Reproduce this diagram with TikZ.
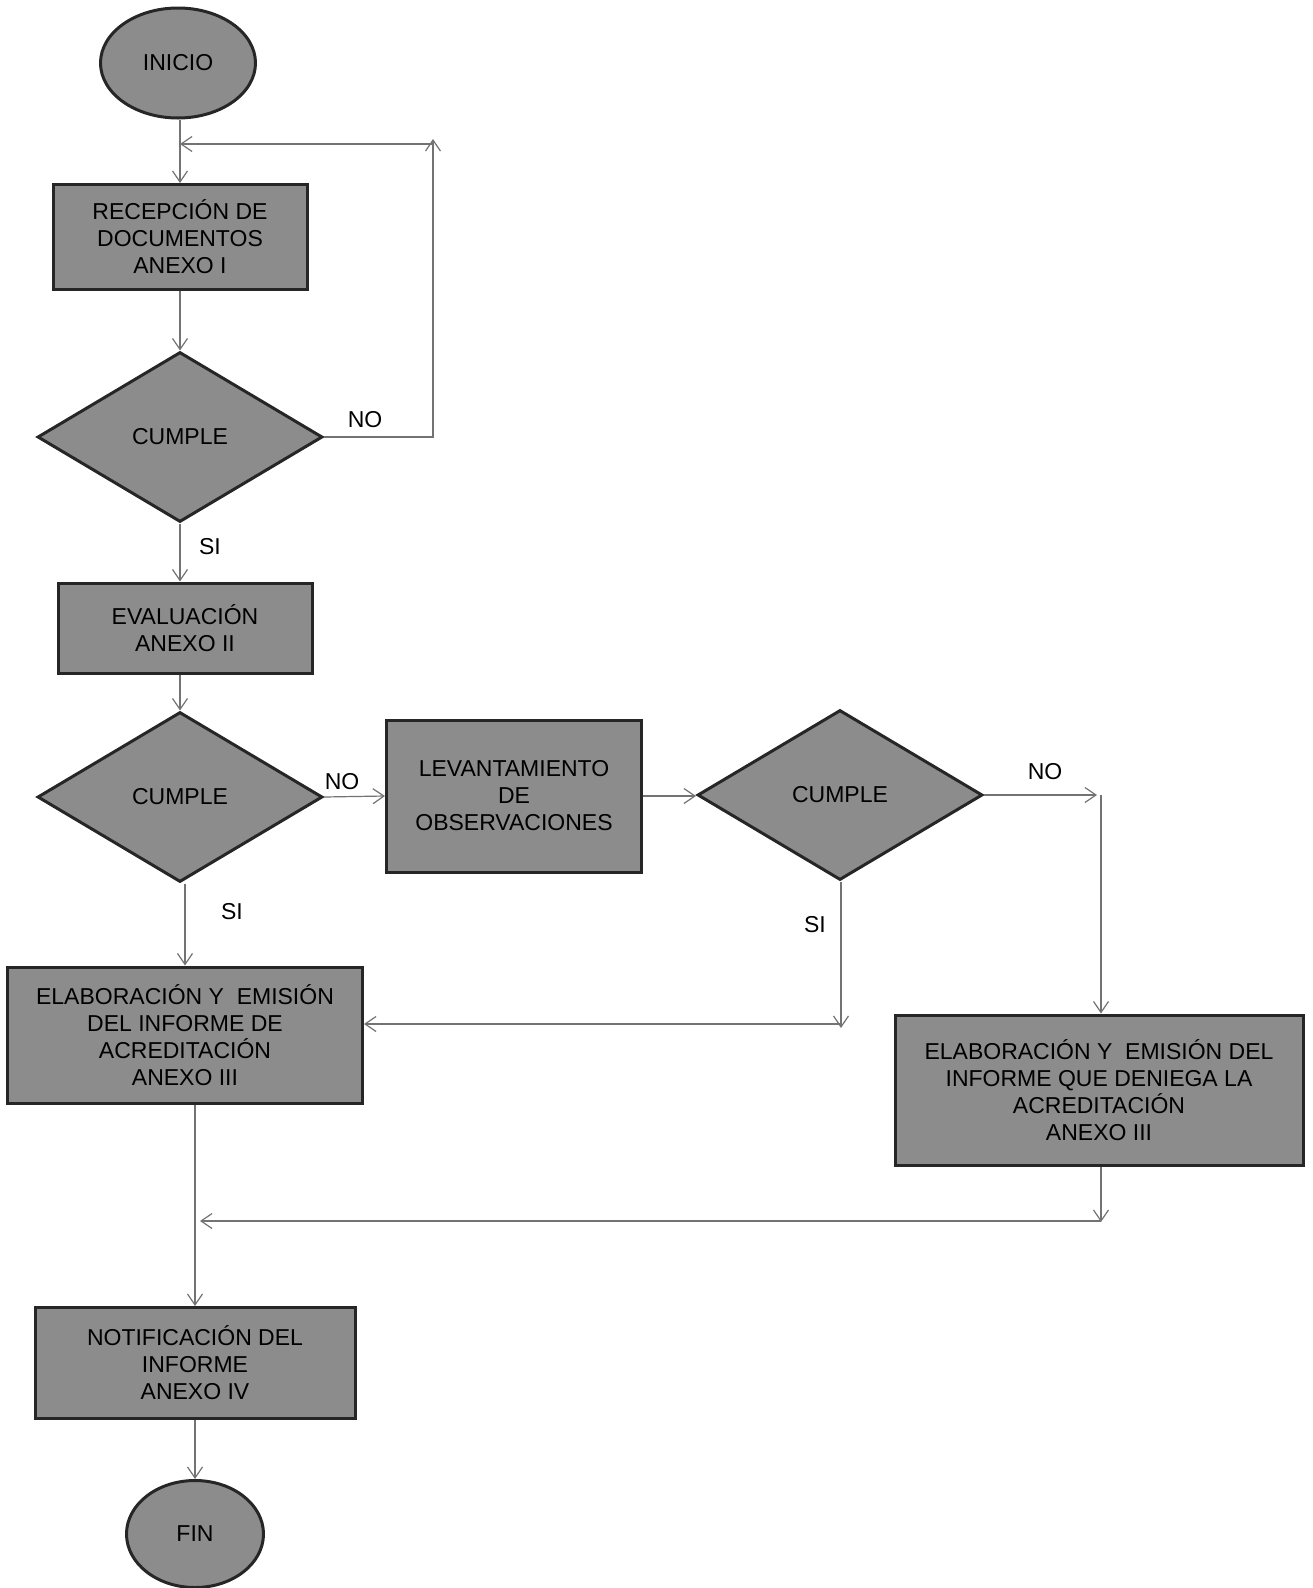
\documentclass[tikz,border=0pt]{standalone}
\usepackage{fontspec}
\setmainfont{Liberation Sans}
\usetikzlibrary{arrows.meta}
\usetikzlibrary{calc}
\usetikzlibrary{positioning}
\usetikzlibrary{shapes.geometric}
\tikzset{
  every node/.style={font=\fontsize{23}{27}\selectfont, align=center},
  proceso/.style={rectangle, fill=black!45, draw=black!85, line width=3pt, inner sep=4pt},
  decision/.style={diamond, fill=black!45, draw=black!85, line width=3pt, inner sep=0pt,
    minimum width=285pt, minimum height=170pt},
  terminal/.style={ellipse, fill=black!45, draw=black!85, line width=3pt, inner sep=0pt},
  etiqueta/.style={inner sep=0pt},
  arrow/.style={->, >={Straight Barb[length=11pt,width=15pt]}, draw=black!55, line width=1.2pt}
}

\begin{document}
\begin{tikzpicture}[x=1pt, y=-1pt]
  \useasboundingbox (0,0) rectangle (1313,1588);

  % columna principal
  \node[terminal, minimum width=155pt, minimum height=110pt] (inicio) at (178,63) {INICIO};
  \node[proceso, minimum width=254pt, minimum height=105pt] (recepcion) at (180,237)
    {RECEPCIÓN DE\\DOCUMENTOS\\ANEXO I};
  \node[decision] (cumple1) at (180,437) {CUMPLE};
  \node[proceso, minimum width=254pt, minimum height=90pt] (evaluacion) at (185,628)
    {EVALUACIÓN\\ANEXO II};
  \node[decision] (cumple2) at (180,797) {CUMPLE};
  \node[proceso, minimum width=255pt, minimum height=152pt] (levantamiento) at (514,796)
    {LEVANTAMIENTO\\DE\\OBSERVACIONES};
  \node[decision] (cumple3) at (840,795) {CUMPLE};
  \node[proceso, minimum width=355pt, minimum height=136pt] (acredita) at (185,1035)
    {ELABORACIÓN Y~ EMISIÓN\\DEL INFORME DE\\ACREDITACIÓN\\ANEXO III};
  \node[proceso, minimum width=408pt, minimum height=150pt] (deniega) at (1099,1090)
    {ELABORACIÓN Y~ EMISIÓN DEL\\INFORME QUE DENIEGA LA\\ACREDITACIÓN\\ANEXO III};
  \node[proceso, minimum width=320pt, minimum height=111pt] (notifica) at (195,1363)
    {NOTIFICACIÓN DEL\\INFORME\\ANEXO IV};
  \node[terminal, minimum width=137pt, minimum height=107pt] (fin) at (195,1534) {FIN};

  % etiquetas
  \node[etiqueta] (no1) at (365,420) {NO};
  \node[etiqueta] (si1) at (210,547) {SI};
  \node[etiqueta] (no2) at (342,782) {NO};
  \node[etiqueta] (si2) at (232,912) {SI};
  \node[etiqueta] (no3) at (1045,772) {NO};
  \node[etiqueta] (si3) at (815,925) {SI};

  % puntos de quiebre
  \coordinate (retorno) at (433,144);
  \coordinate (noesq) at (1101,795);
  \coordinate (siesq) at (841,1024);
  \coordinate (finesq) at (1101,1221);

  % conectores
  \draw[arrow] (inicio.south -| recepcion.north) -- (recepcion.north);
  \draw[arrow] (recepcion.south -| cumple1.north) -- (cumple1.north);
  \draw[arrow] (cumple1.east) -| ([yshift=5pt]retorno);
  \draw[arrow] (retorno) -- (retorno -| recepcion.north);
  \draw[arrow] (cumple1.south) -- (cumple1.south |- evaluacion.north);
  \draw[arrow] (evaluacion.south -| cumple2.north) -- (cumple2.north);
  \draw[arrow] (cumple2.east) -- (levantamiento.west);
  \draw[arrow] (levantamiento.east) -- (levantamiento.east -| cumple3.west);
  \draw[arrow] (cumple3.east) -- ([xshift=-4pt]noesq);
  \draw[arrow] (noesq) -- (noesq |- deniega.north);
  \draw[arrow] (cumple3.south -| siesq) -- ([yshift=-4pt]siesq);
  \draw[arrow] (siesq) -- (siesq -| acredita.east);
  \draw[arrow] (cumple2.south -| acredita.north) -- (acredita.north);
  \draw[arrow] (deniega.south -| finesq) -- ([yshift=-1pt]finesq);
  \draw[arrow, shorten >=5pt] (finesq) -- (finesq -| notifica.north);
  \draw[arrow] (acredita.south -| notifica.north) -- (notifica.north);
  \draw[arrow] (notifica.south) -- (fin.north);
\end{tikzpicture}
\end{document}
